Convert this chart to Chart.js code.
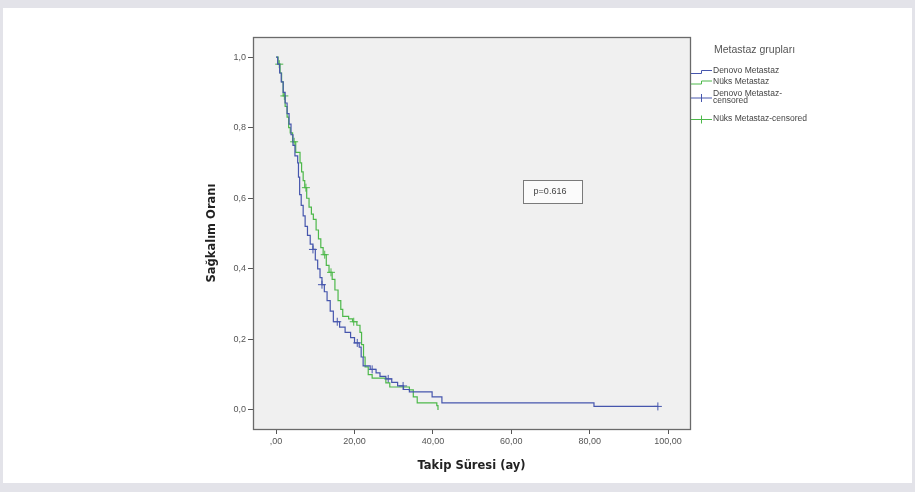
<!DOCTYPE html>
<html>
<head>
<meta charset="utf-8">
<script src="https://cdn.jsdelivr.net/npm/chart.js@4"></script>
<style>
  body { margin: 0; background: #e3e3e9; }
  #panel { position: absolute; left: 3px; top: 8px; width: 909px; height: 475px; background: #fff; }
  #km { position: absolute; left: 0; top: 0; }
</style>
</head>
<body>
<div id="panel"></div>
<canvas id="km" width="915" height="492"></canvas>
<script>
// Kaplan-Meier steps (months, survival)
const denovoTime = [0, 0.4, 0.9, 1.3, 1.8, 2.3, 2.8, 3.3, 3.8, 4.3, 4.8, 5.5, 5.7, 6.0, 6.4, 6.9, 7.4, 8.0, 8.7, 9.4,
  10.0, 10.6, 11.2, 11.7, 12.3, 13.0, 13.8, 14.6, 16.2, 17.6, 19.0, 20.0, 21.2, 21.7, 22.2, 24.0, 25.5, 26.5, 28.0,
  29.5, 31.0, 32.5, 34.0, 39.8, 42.3, 81.1, 97.4];
const denovoSurv = [1.0, 0.98, 0.955, 0.93, 0.90, 0.87, 0.84, 0.81, 0.78, 0.75, 0.72, 0.70, 0.66, 0.61, 0.58, 0.55, 0.52, 0.495, 0.47, 0.455,
  0.425, 0.40, 0.375, 0.355, 0.335, 0.31, 0.28, 0.25, 0.235, 0.22, 0.205, 0.19, 0.178, 0.15, 0.125, 0.115, 0.105, 0.095, 0.088,
  0.078, 0.068, 0.058, 0.051, 0.037, 0.02, 0.01, 0.01];

const nuksTime = [0, 0.5, 1.0, 1.4, 1.8, 2.3, 2.8, 3.2, 3.6, 4.2, 5.0, 6.1, 6.5, 6.9, 7.3, 7.8, 8.4, 9.0, 9.5, 10.2,
  10.8, 11.4, 12.0, 12.8, 13.5, 14.3, 15.0, 15.8, 16.5, 17.0, 18.5, 19.5, 20.6, 21.4, 21.8, 22.3, 22.7, 23.5, 24.5,
  28.0, 29.0, 34.0, 35.0, 36.0, 41.0, 41.3];
const nuksSurv = [1.0, 0.98, 0.955, 0.93, 0.89, 0.86, 0.83, 0.80, 0.785, 0.76, 0.73, 0.70, 0.675, 0.65, 0.63, 0.60, 0.575, 0.555, 0.54, 0.51,
  0.485, 0.46, 0.44, 0.41, 0.39, 0.37, 0.34, 0.31, 0.285, 0.265, 0.258, 0.25, 0.24, 0.22, 0.185, 0.15, 0.122, 0.10, 0.09,
  0.077, 0.065, 0.057, 0.037, 0.02, 0.012, 0.0];

const denovoCensTime = [9.4, 11.7, 15.6, 20.7, 24.5, 28.6, 32.4, 97.4];
const denovoCensSurv = [0.455, 0.355, 0.25, 0.19, 0.115, 0.088, 0.068, 0.01];
const nuksCensTime = [0.8, 2.1, 4.6, 7.6, 12.4, 14.0, 19.8];
const nuksCensSurv = [0.98, 0.89, 0.76, 0.63, 0.44, 0.39, 0.25];

const xTickValues = [0, 20, 40, 60, 80, 100];
const xTickLabels = [',00', '20,00', '40,00', '60,00', '80,00', '100,00'];
const yTickValues = [0, 0.2, 0.4, 0.6, 0.8, 1.0];
const yTickLabels = ['0,0', '0,2', '0,4', '0,6', '0,8', '1,0'];

const legendTitle = 'Metastaz grupları';
const legendLabels = [['Denovo Metastaz'], ['Nüks Metastaz'], ['Denovo Metastaz-', 'censored'], ['Nüks Metastaz-censored']];
const pValueText = 'p=0.616';
const xTitle = 'Takip Süresi (ay)';
const yTitle = 'Sağkalım Oranı';

const blue = '#4656ad';
const green = '#4db84a';

const pts = (xs, ys) => xs.map((x, i) => ({x: x, y: ys[i]}));

// plot background, frame, legend and p-value box
const decor = {
  id: 'decor',
  beforeDraw(chart) {
    const a = chart.chartArea, ctx = chart.ctx;
    ctx.save();
    ctx.fillStyle = '#f0f0f0';
    ctx.fillRect(a.left, a.top, a.right - a.left, a.bottom - a.top);
    ctx.restore();
  },
  afterDraw(chart) {
    const a = chart.chartArea, ctx = chart.ctx;
    ctx.save();
    ctx.strokeStyle = '#6a6a6a';
    ctx.lineWidth = 1.3;
    ctx.strokeRect(a.left + 0.5, a.top + 0.5, a.right - a.left, a.bottom - a.top);

    // p box
    ctx.fillStyle = '#fbfbfb';
    ctx.fillRect(523, 180, 59, 23);
    ctx.strokeStyle = '#7a7a7a';
    ctx.lineWidth = 1;
    ctx.strokeRect(523.5, 180.5, 59, 23);
    ctx.fillStyle = '#444';
    ctx.font = '9px "Liberation Sans"';
    ctx.textAlign = 'center';
    ctx.textBaseline = 'middle';
    ctx.fillText(pValueText, 550, 192);

    // legend
    ctx.textAlign = 'left';
    ctx.fillStyle = '#555';
    ctx.font = '10.5px "Liberation Sans"';
    ctx.fillText(legendTitle, 714, 50);
    ctx.font = '8.5px "Liberation Sans"';
    ctx.fillStyle = '#444';
    const rows = [71, 81.5, 93.5, 119];
    const cols = [blue, green, blue, green];
    legendLabels.forEach((lines, i) => {
      const y = rows[i];
      ctx.strokeStyle = cols[i];
      ctx.lineWidth = 1;
      ctx.beginPath();
      if (i < 2) {
        ctx.moveTo(691, y + 2.5); ctx.lineTo(701.5, y + 2.5);
        ctx.lineTo(701.5, y - 0.5); ctx.lineTo(712, y - 0.5);
      } else {
        const yy = i === 2 ? y + 4 : y;
        ctx.moveTo(691, yy + 0.5); ctx.lineTo(712, yy + 0.5);
        ctx.moveTo(701.5, yy - 3.5); ctx.lineTo(701.5, yy + 4.5);
      }
      ctx.stroke();
      lines.forEach((t, k) => ctx.fillText(t, 713, y + k * 7));
    });
    ctx.restore();
  }
};

new Chart(document.getElementById('km'), {
  type: 'line',
  data: {
    datasets: [
      { label: 'Denovo Metastaz', data: pts(denovoTime, denovoSurv), borderColor: blue, borderWidth: 1.2, stepped: 'before', pointRadius: 0 },
      { label: 'Nüks Metastaz', data: pts(nuksTime, nuksSurv), borderColor: green, borderWidth: 1.2, stepped: 'before', pointRadius: 0 },
      { label: 'Denovo Metastaz-censored', data: pts(denovoCensTime, denovoCensSurv), showLine: false, pointStyle: 'cross', pointRadius: 4, borderColor: blue, borderWidth: 1 },
      { label: 'Nüks Metastaz-censored', data: pts(nuksCensTime, nuksCensSurv), showLine: false, pointStyle: 'cross', pointRadius: 4, borderColor: green, borderWidth: 1 }
    ]
  },
  options: {
    responsive: false,
    animation: false,
    layout: { padding: { top: 37, right: 225, left: 0, bottom: 0 } },
    plugins: { legend: { display: false }, tooltip: { enabled: false } },
    scales: {
      x: {
        type: 'linear', min: -5.9, max: 105.6,
        afterBuildTicks: s => { s.ticks = xTickValues.map(v => ({value: v})); },
        afterFit: s => { s.height = 63; },
        ticks: { callback: v => xTickLabels[xTickValues.indexOf(v)], color: '#555', font: { family: 'Liberation Sans', size: 9 }, padding: 2, maxRotation: 0 },
        grid: { drawOnChartArea: false, tickLength: 5, tickColor: '#555' },
        border: { display: false },
        title: { display: true, text: xTitle, color: '#222', font: { family: 'DejaVu Sans', weight: 'bold', size: 11.5 }, padding: { top: 0, bottom: 19 } }
      },
      y: {
        type: 'linear', min: -0.054, max: 1.057,
        afterBuildTicks: s => { s.ticks = yTickValues.map(v => ({value: v})); },
        afterFit: s => { s.width = 253; },
        ticks: { callback: v => yTickLabels[yTickValues.indexOf(v)], color: '#555', font: { family: 'Liberation Sans', size: 9 }, padding: 2 },
        grid: { drawOnChartArea: false, tickLength: 5, tickColor: '#555' },
        border: { display: false },
        title: { display: true, text: yTitle, color: '#222', font: { family: 'DejaVu Sans', weight: 'bold', size: 11.5 }, padding: { top: 205, bottom: 0 } }
      }
    }
  },
  plugins: [decor]
});
</script>
</body>
</html>
